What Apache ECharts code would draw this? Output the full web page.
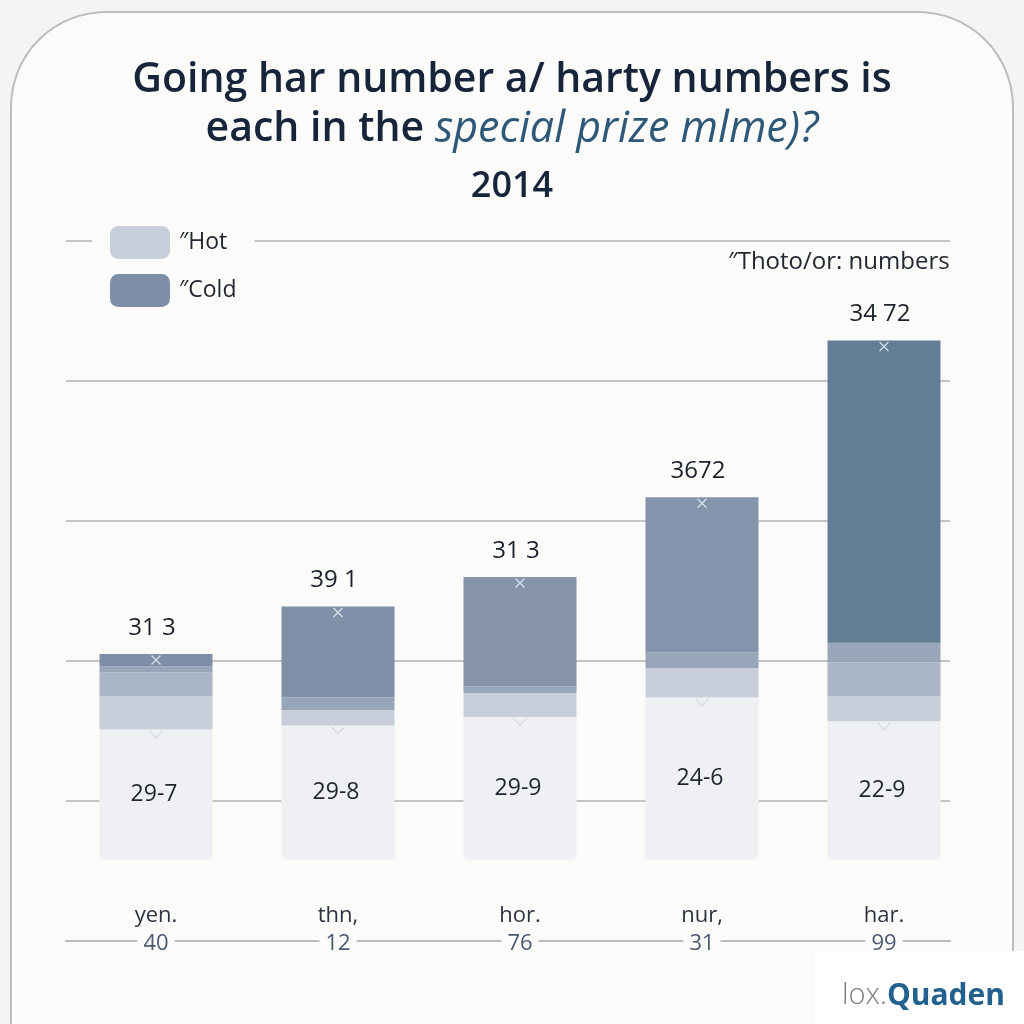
<!DOCTYPE html>
<html>
<head>
<meta charset="utf-8">
<script src="https://cdn.jsdelivr.net/npm/echarts@6/dist/echarts.min.js"></script>
<style>
html,body{margin:0;padding:0;background:#f4f4f3;}
#c{width:1024px;height:1024px;}
</style>
</head>
<body>
<div id="c"></div>
<script>
// ---- data ----
const categories = ['yen.', 'thn,', 'hor.', 'nur,', 'har.'];
const categoryCodes = ['40', '12', '76', '31', '99'];
const spacer = [5.8, 5.8, 5.8, 5.8, 5.8];
const baseValues = [9.3, 9.6, 10.2, 11.6, 9.9];
const hotValues = [2.4, 1.1, 1.7, 2.1, 1.8];
const midLightValues = [1.7, 0, 0, 0, 2.4];
const midDarkValues = [0.4, 0.9, 0.5, 1.1, 1.4];
const coldValues = [0.9, 6.5, 7.8, 11.1, 21.6];
const topLabels = ['31 3', '39 1', '31 3', '3672', '34 72'];
const baseLabels = ['29-7', '29-8', '29-9', '24-6', '22-9'];
const yTicks = [0, 10, 20, 30, 40, 50];

const FONT = '"Open Sans", "Noto Sans", sans-serif';
const PAGE = '#fbfbfa';
const coldColors = ['#7f8ea8', '#8190a9', '#8593ab', '#8494ad', '#627d96'];

const totals = categories.map((_, i) => spacer[i] + baseValues[i] + hotValues[i] + midLightValues[i] + midDarkValues[i] + coldValues[i]);
const baseTops = categories.map((_, i) => spacer[i] + baseValues[i]);

const chart = echarts.init(document.getElementById('c'));
const barW = 113;
const common = { type: 'bar', stack: 's', xAxisIndex: 1, yAxisIndex: 1, barWidth: barW, animation: false };

chart.setOption({
  backgroundColor: 'transparent',
  textStyle: { fontFamily: FONT },
  graphic: [
    { type: 'rect', z: -10, shape: { x: 11, y: 12, width: 1002, height: 1150, r: 95 },
      style: { fill: PAGE, stroke: '#bdbdbd', lineWidth: 2 } },
    { type: 'rect', z: 50, shape: { x: 815, y: 951, width: 209, height: 73 }, style: { fill: '#ffffff' } },
    { type: 'text', z: 51, x: 842, y: 981,
      style: { text: '{a|lox.}{b|Quaden}', rich: {
        a: { fontFamily: FONT, fontSize: 29, fontWeight: 300, fill: '#7a7f86' },
        b: { fontFamily: FONT, fontSize: 30, fontWeight: 700, fill: '#22618e' } } } },
    { type: 'text', x: 728, y: 250,
      style: { text: '\u2033Thoto/or: numbers', fontFamily: FONT, fontSize: 24, fill: '#222831' } },
    { type: 'text', x: 512, y: 56,
      style: {
        text: '{t|Going har number a/ harty numbers is}\n{t|each in the }{i|special prize mlme)?}\n{y|2014}',
        align: 'center',
        rich: {
          t: { fontFamily: FONT, fontSize: 41, fontWeight: 600, fill: '#16253a', lineHeight: 49, align: 'center' },
          i: { fontFamily: FONT, fontSize: 43, fontStyle: 'italic', fontWeight: 400, fill: '#2e5877', lineHeight: 49, align: 'center' },
          y: { fontFamily: FONT, fontSize: 36, fontWeight: 600, fill: '#16253a', lineHeight: 66, align: 'center' }
        }
      } }
  ],
  legend: {
    orient: 'vertical', left: 92, top: 220,
    data: ['\u2033Hot', '\u2033Cold'],
    itemWidth: 60, itemHeight: 33, itemGap: 15,
    padding: [6, 18, 6, 18],
    backgroundColor: PAGE,
    itemStyle: { borderRadius: 3 },
    textStyle: { fontFamily: FONT, fontSize: 23, color: '#222831', padding: [0, 0, 0, 4] },
    selectedMode: false
  },
  grid: [
    { left: 66, right: 74, top: 241, bottom: 83 },
    { left: 65, right: 49, top: 241, bottom: 83 }
  ],
  xAxis: [
    { type: 'category', gridIndex: 0, data: categories, axisTick: { show: false },
      axisLabel: { show: false }, axisLine: { show: true, lineStyle: { color: '#bcbcbc', width: 2 } } },
    { type: 'category', gridIndex: 1, data: categories, axisTick: { show: false },
      axisLine: { show: false },
      axisLabel: {
        margin: -40,
        formatter: (v, i) => '{n|' + v + '}\n{c|' + categoryCodes[i] + '}',
        rich: {
          n: { fontFamily: FONT, fontSize: 22, color: '#2d3440', lineHeight: 30 },
          c: { fontFamily: FONT, fontSize: 22, color: '#4a5a70', lineHeight: 26, backgroundColor: PAGE, padding: [0, 6, 0, 6] }
        }
      } }
  ],
  yAxis: [
    { type: 'value', gridIndex: 0, min: 0, max: 50, interval: 10, axisLabel: { show: false },
      axisLine: { show: false }, axisTick: { show: false },
      splitLine: { show: true, lineStyle: { color: '#c4c4c4', width: 2 } } },
    { type: 'value', gridIndex: 1, min: 0, max: 50, interval: 10, show: false, splitLine: { show: false } }
  ],
  series: [
    { ...common, name: 'spacer', data: spacer, itemStyle: { color: 'transparent' }, silent: true },
    { ...common, name: 'base', data: baseValues,
      itemStyle: { color: '#eef0f3', borderRadius: [0, 0, 5, 5] },
      label: { show: true, position: 'inside', formatter: p => baseLabels[p.dataIndex],
        fontFamily: FONT, fontSize: 23, color: '#1f2530', offset: [-2, 0] } },
    { ...common, name: '\u2033Hot', data: hotValues, itemStyle: { color: '#c8cfdb' } },
    { ...common, name: 'midLight', data: midLightValues, itemStyle: { color: '#a9b4c5' } },
    { ...common, name: 'midDark', data: midDarkValues, itemStyle: { color: '#98a6ba' } },
    { ...common, name: '\u2033Cold', data: coldValues.map((v, i) => ({ value: v, itemStyle: { color: coldColors[i] } })),
      itemStyle: { color: '#7f8fa8' },
      label: { show: true, position: 'top', distance: 14, formatter: p => topLabels[p.dataIndex],
        fontFamily: FONT, fontSize: 24, color: '#1a212b', offset: [-4, 0] } },
    { type: 'scatter', xAxisIndex: 1, yAxisIndex: 1, data: totals, symbol: 'path://M0,0L10,10M10,0L0,10',
      symbolSize: 9, symbolOffset: [0, 6], itemStyle: { color: 'none', borderColor: '#eef1f5', borderWidth: 1.4 },
      silent: true, animation: false, z: 5 },
    { type: 'scatter', xAxisIndex: 1, yAxisIndex: 1, data: baseTops, symbol: 'path://M0,0L6,6L12,0',
      symbolSize: [13, 7], symbolOffset: [0, 5], itemStyle: { color: 'none', borderColor: '#d3d8e0', borderWidth: 1.4 },
      silent: true, animation: false, z: 5 }
  ]
});
</script>
</body>
</html>
